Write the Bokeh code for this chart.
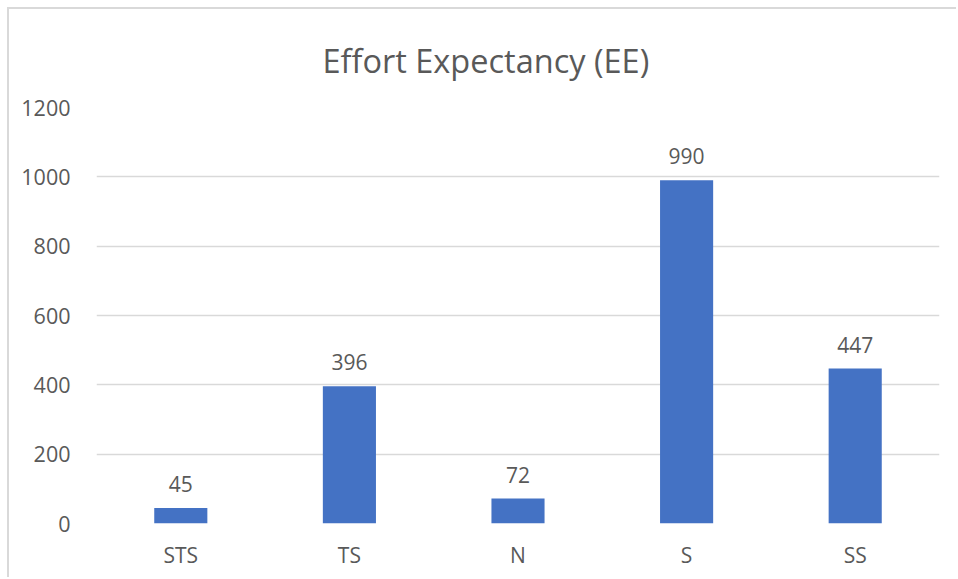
from bokeh.plotting import figure
from bokeh.models import ColumnDataSource, FactorRange, Range1d, FixedTicker, LabelSet
from bokeh.core.properties import value
from bokeh.embed import file_html
from bokeh.resources import INLINE

categories = ["STS", "TS", "N", "S", "SS"]
counts = [45, 396, 72, 990, 447]
y_ticks = [0, 200, 400, 600, 800, 1000, 1200]
title_text = "Effort Expectancy (EE)"

FONT = "Open Sans"
TEXT = "#595959"
GRID = "#d9d9d9"
BAR = "#4472C4"

source = ColumnDataSource(data=dict(cat=categories, n=counts, lbl=[str(v) for v in counts]))

p = figure(
    width=949, height=570,
    x_range=FactorRange(*categories, range_padding=0),
    y_range=Range1d(0, 1200),
    output_backend="svg", toolbar_location=None,
    min_border_left=87, min_border_right=19,
    min_border_top=98, min_border_bottom=56,
    margin=(7, 0, 0, 7),
    styles={"border-top": "2px solid #d9d9d9", "border-left": "2px solid #d9d9d9"},
    outline_line_color=None,
)

p.title.text = title_text
p.title.text_font = FONT
p.title.text_font_size = "32.5px"
p.title.text_font_style = "normal"
p.title.text_color = TEXT
p.title.align = "left"
p.title.offset = 226
p.title.standoff = 49

p.vbar(x="cat", top="n", width=0.315, source=source, color=BAR, line_color=None)

labels = LabelSet(x="cat", y="n", text="lbl", source=source,
                  text_align="center", text_baseline="bottom", y_offset=16,
                  text_font=value(FONT), text_font_size=value("21px"), text_color=TEXT)
p.add_layout(labels)

p.yaxis.ticker = FixedTicker(ticks=y_ticks)
p.yaxis.axis_line_color = None
p.yaxis.major_tick_line_color = None
p.yaxis.minor_tick_line_color = None
p.yaxis.major_label_standoff = 20
p.yaxis.major_label_text_font = FONT
p.yaxis.major_label_text_font_size = "21.5px"
p.yaxis.major_label_text_color = TEXT

p.xaxis.axis_line_color = None
p.xaxis.major_tick_line_color = None
p.xaxis.minor_tick_line_color = None
p.xaxis.major_label_standoff = 11
p.xaxis.major_label_text_font = FONT
p.xaxis.major_label_text_font_size = "21px"
p.xaxis.major_label_text_color = TEXT

p.xgrid.grid_line_color = None
p.ygrid.grid_line_color = GRID
p.ygrid.grid_line_width = 1.3

open("out.html", "w").write(file_html(p, INLINE))
